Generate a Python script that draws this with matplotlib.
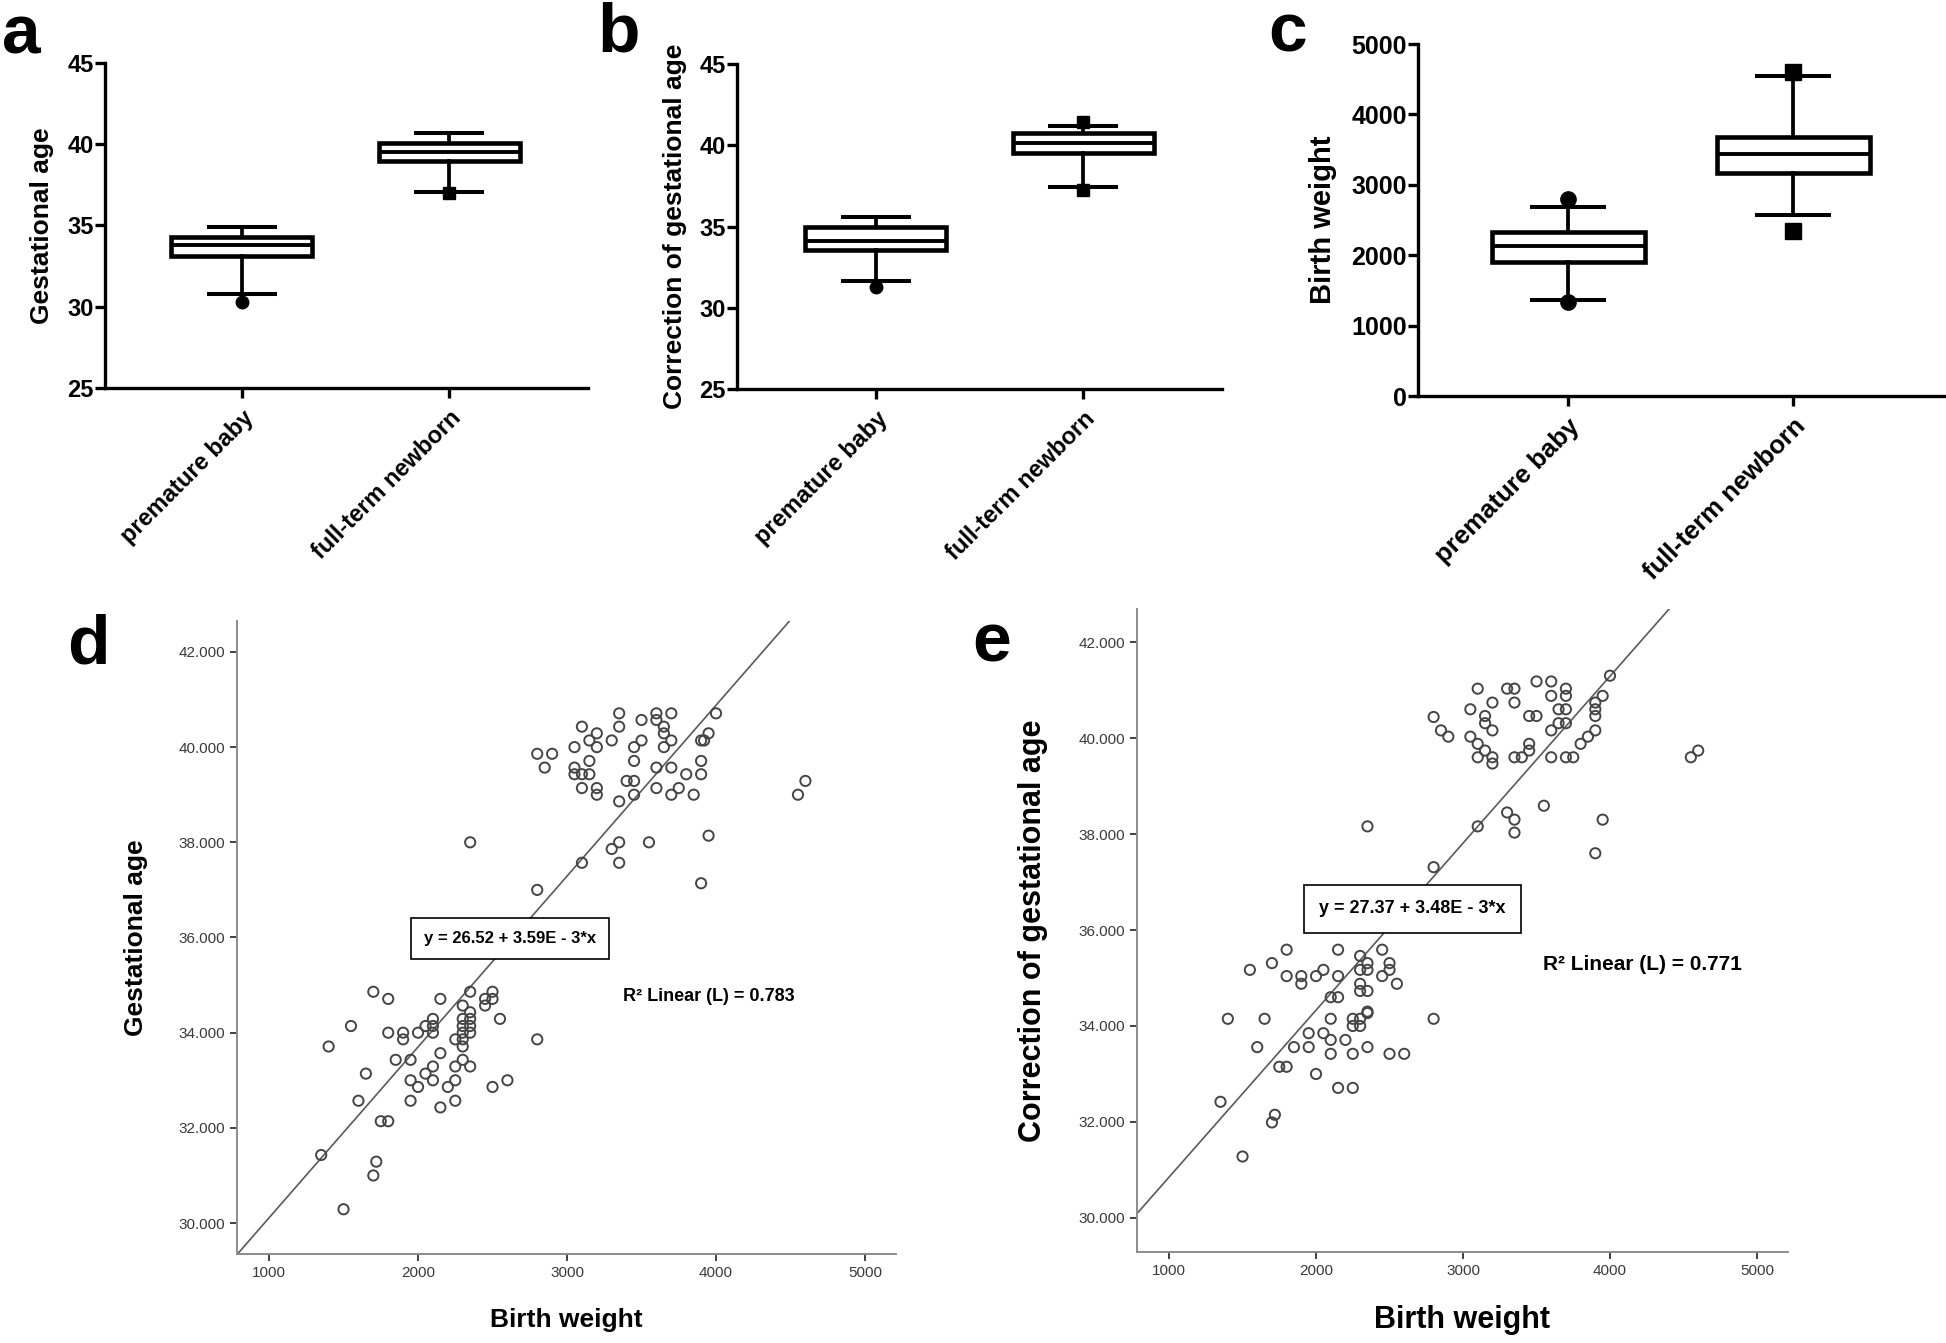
import numpy as np
import matplotlib.pyplot as plt

plt.rcParams['font.family'] = ['Liberation Sans', 'DejaVu Sans']

W, H = 1946, 1343

# ---- box plot summaries (panels a-c) ----
groups = ['premature baby', 'full-term newborn']

ga_q1 = [33.12, 38.95]
ga_med = [33.80, 39.55]
ga_q3 = [34.30, 40.10]
ga_lo = [30.76, 37.09]
ga_hi = [34.89, 40.70]
ga_out = [[30.31], [36.99]]

cga_q1 = [33.54, 39.53]
cga_med = [34.11, 40.15]
cga_q3 = [34.98, 40.76]
cga_lo = [31.67, 37.41]
cga_hi = [35.59, 41.17]
cga_out = [[31.26], [41.45, 37.25]]

bw_q1 = [1903, 3167]
bw_med = [2131, 3438]
bw_q3 = [2330, 3679]
bw_lo = [1364, 2571]
bw_hi = [2685, 4545]
bw_out = [[2798, 1335], [4602, 2344]]

# ---- scatter d: birth weight vs gestational age ----
d_weight = [3600, 3700, 3350, 4000, 3500, 3600, 3100, 3350, 3650, 3200, 3650, 3950,
            3150, 3300, 3500, 3700, 3900, 3920, 3050, 3200, 3450, 3650, 2800, 2900,
            3150, 3450, 3900, 2850, 3050, 3600, 3700, 3050, 3100, 3150, 3800, 3900,
            3400, 3450, 3100, 3200, 3600, 3750, 3200, 3450, 3700, 3850, 3350, 4550,
            4600, 2350, 3350, 3550, 3300, 3950, 3100, 3350, 3900, 2800,
            1700, 1800, 2150, 2350, 2500, 2450, 2500, 2300, 2450, 1550, 1400, 1650,
            1600, 1750, 1800, 1350, 1720, 1700, 1500, 1800, 1850, 1900, 1900, 1950,
            1950, 1950, 2000, 2000, 2050, 2050, 2100, 2100, 2100, 2100, 2100, 2150,
            2150, 2200, 2250, 2250, 2250, 2250, 2300, 2300, 2300, 2300, 2300, 2300,
            2350, 2350, 2350, 2350, 2350, 2550, 2500, 2600, 2800]
d_age = [40.71, 40.71, 40.71, 40.71, 40.57, 40.57, 40.43, 40.43, 40.43, 40.29, 40.29, 40.29,
         40.14, 40.14, 40.14, 40.14, 40.14, 40.14, 40.00, 40.00, 40.00, 40.00, 39.86, 39.86,
         39.71, 39.71, 39.71, 39.57, 39.57, 39.57, 39.57, 39.43, 39.43, 39.43, 39.43, 39.43,
         39.29, 39.29, 39.14, 39.14, 39.14, 39.14, 39.00, 39.00, 39.00, 39.00, 38.86, 39.00,
         39.29, 38.00, 38.00, 38.00, 37.86, 38.14, 37.57, 37.57, 37.14, 37.00,
         34.86, 34.71, 34.71, 34.86, 34.86, 34.71, 34.71, 34.57, 34.57, 34.14, 33.71, 33.14,
         32.57, 32.14, 32.14, 31.43, 31.29, 31.00, 30.29, 34.00, 33.43, 34.00, 33.86, 33.43,
         33.00, 32.57, 32.86, 34.00, 34.14, 33.14, 34.29, 34.14, 34.00, 33.29, 33.00, 33.57,
         32.43, 32.86, 33.86, 33.29, 33.00, 32.57, 34.29, 34.14, 34.00, 33.86, 33.71, 33.43,
         34.43, 34.29, 34.14, 34.00, 33.29, 34.29, 32.86, 33.00, 33.86]
d_intercept, d_slope = 26.52, 3.59e-3

# ---- scatter e: birth weight vs corrected gestational age ----
e_weight = [3500, 3600, 3100, 3300, 3350, 3700, 3600, 3700, 3950, 4000, 3200, 3350,
            3900, 3050, 3650, 3700, 3900, 3150, 3450, 3500, 3900, 2800, 3150, 3650,
            3700, 2850, 3200, 3600, 3900, 2900, 3050, 3850, 3100, 3450, 3800, 3150,
            3450, 3100, 3200, 3350, 3400, 3600, 3700, 3750, 3200, 4550, 4600, 3550,
            3300, 3350, 3950, 2350, 3100, 3350, 3900, 2800,
            1800, 2150, 2450, 2300, 1700, 2350, 2500, 1550, 2050, 2300, 2350, 2500,
            1800, 1900, 2000, 2150, 2450, 1900, 2300, 2550, 2300, 2350, 2100, 2150,
            2350, 1400, 1650, 1600, 1850, 1950, 1950, 2050, 2100, 2100, 2100, 2200,
            2250, 2300, 2250, 2300, 2250, 2350, 2350, 2500, 2600, 2800, 1750, 1800,
            2000, 2150, 2250, 1350, 1720, 1700, 1500]
e_age = [41.18, 41.18, 41.03, 41.03, 41.03, 41.03, 40.88, 40.88, 40.88, 41.30, 40.74, 40.74,
         40.74, 40.60, 40.60, 40.60, 40.60, 40.46, 40.46, 40.46, 40.46, 40.44, 40.31, 40.31,
         40.31, 40.16, 40.16, 40.16, 40.16, 40.03, 40.03, 40.03, 39.88, 39.88, 39.88, 39.74,
         39.74, 39.60, 39.60, 39.60, 39.60, 39.60, 39.60, 39.60, 39.47, 39.60, 39.74, 38.59,
         38.45, 38.30, 38.30, 38.16, 38.16, 38.03, 37.60, 37.31,
         35.59, 35.59, 35.59, 35.46, 35.31, 35.31, 35.31, 35.17, 35.17, 35.17, 35.17, 35.17,
         35.04, 35.04, 35.04, 35.04, 35.04, 34.88, 34.88, 34.88, 34.73, 34.73, 34.60, 34.60,
         34.30, 34.15, 34.15, 33.56, 33.56, 33.85, 33.56, 33.85, 34.15, 33.71, 33.42, 33.71,
         34.15, 34.15, 34.00, 34.00, 33.42, 34.27, 33.56, 33.42, 33.42, 34.15, 33.15, 33.15,
         33.00, 32.71, 32.71, 32.42, 32.15, 31.99, 31.28]
e_intercept, e_slope = 27.37, 3.48e-3

fig = plt.figure(figsize=(W / 100, H / 100), dpi=100)


def add_px_axes(left, top, right, bottom):
    return fig.add_axes([left / W, 1 - bottom / H, (right - left) / W, (bottom - top) / H])


def box_panel(ax, q1, med, q3, lo, hi, out, xlim, ylim, yticks, ylabel,
              tick_fs, cat_fs, lab_fs, ylab_x, msize):
    stats = []
    for i in range(len(groups)):
        stats.append(dict(q1=q1[i], med=med[i], q3=q3[i],
                          whislo=lo[i], whishi=hi[i], fliers=out[i]))
    parts = ax.bxp(stats, positions=[0, 1], widths=0.68, capwidths=0.32,
                   patch_artist=True, manage_ticks=False,
                   boxprops=dict(facecolor='white', edgecolor='black', linewidth=3.3),
                   medianprops=dict(color='black', linewidth=2.8),
                   whiskerprops=dict(color='black', linewidth=2.7),
                   capprops=dict(color='black', linewidth=2.9),
                   flierprops=dict(marker='o', markerfacecolor='black',
                                   markeredgecolor='black', markersize=msize))
    parts['fliers'][1].set_marker('s')
    for f in parts['fliers']:
        f.set_zorder(4)
    ax.set_xlim(*xlim)
    ax.set_ylim(*ylim)
    ax.set_yticks(yticks)
    ax.set_xticks([0, 1])
    ax.set_xticklabels(groups, rotation=45, ha='right', rotation_mode='anchor',
                       fontsize=cat_fs, fontweight='bold')
    ax.tick_params(axis='y', labelsize=tick_fs, length=7, width=2.4, pad=1)
    ax.tick_params(axis='x', length=7, width=2.4, pad=6)
    for lab in ax.get_yticklabels():
        lab.set_fontweight('bold')
    for s in ['top', 'right']:
        ax.spines[s].set_visible(False)
    for s in ['left', 'bottom']:
        ax.spines[s].set_linewidth(2.4)
    ax.set_ylabel(ylabel, fontsize=lab_fs, fontweight='bold', va='center')
    ax.yaxis.set_label_coords(ylab_x, 0.5)


def scatter_panel(ax, x, y, a, b, xlim, ylim, eq_xy, eq_fs, eq_pad, r2_xy, r2_text, r2_fs,
                  ylabel, lab_fs, ylab_x, xlab_y):
    ax.scatter(x, y, s=54, facecolors='none', edgecolors='#454545', linewidths=1.4, zorder=3)
    xs = np.array(xlim)
    ax.plot(xs, a + b * xs, color='#5a5a5a', lw=1.2, zorder=2)
    ax.set_xlim(*xlim)
    ax.set_ylim(*ylim)
    ax.set_xticks([1000, 2000, 3000, 4000, 5000])
    ax.set_yticks([30, 32, 34, 36, 38, 40, 42])
    ax.set_yticklabels(['%.3f' % v for v in [30, 32, 34, 36, 38, 40, 42]])
    ax.tick_params(labelsize=11, labelcolor='#3a3a3a', color='#333333', length=5, width=1.3)
    for s in ['top', 'right']:
        ax.spines[s].set_visible(False)
    for s in ['left', 'bottom']:
        ax.spines[s].set_color('#8c8c8c')
        ax.spines[s].set_linewidth(1.4)
    eq_text = 'y = %.2f + %.2fE - 3*x' % (a, b * 1000)
    ax.text(eq_xy[0], eq_xy[1], eq_text, ha='center', va='center', fontsize=eq_fs,
            fontweight='bold', zorder=5,
            bbox=dict(boxstyle='square,pad=%.2f' % eq_pad, facecolor='white',
                      edgecolor='black', linewidth=1.2))
    ax.text(r2_xy[0], r2_xy[1], r2_text, ha='left', va='center', fontsize=r2_fs,
            fontweight='bold')
    ax.set_xlabel('Birth weight', fontsize=lab_fs, fontweight='bold', va='center')
    ax.set_ylabel(ylabel, fontsize=lab_fs, fontweight='bold', va='center')
    ax.xaxis.set_label_coords(0.5, xlab_y)
    ax.yaxis.set_label_coords(ylab_x, 0.5)


# panel a
ax_a = add_px_axes(105, 63, 588, 388)
box_panel(ax_a, ga_q1, ga_med, ga_q3, ga_lo, ga_hi, ga_out, (-0.66, 1.67), (25, 45),
          [25, 30, 35, 40, 45], 'Gestational age', 17, 17, 19, -0.13, 9)

# panel b
ax_b = add_px_axes(737, 64, 1222, 389)
box_panel(ax_b, cga_q1, cga_med, cga_q3, cga_lo, cga_hi, cga_out, (-0.67, 1.67), (25, 45),
          [25, 30, 35, 40, 45], 'Correction of gestational age', 17, 17, 19, -0.128, 9)

# panel c
ax_c = add_px_axes(1418, 44, 1946, 396)
box_panel(ax_c, bw_q1, bw_med, bw_q3, bw_lo, bw_hi, bw_out, (-0.667, 1.68), (0, 5000),
          [0, 1000, 2000, 3000, 4000, 5000], 'Birth weight', 18, 18.5, 21, -0.18, 11)

# panel d
ax_d = add_px_axes(237, 621, 896, 1254)
scatter_panel(ax_d, d_weight, d_age, d_intercept, d_slope, (785, 5208), (29.35, 42.65),
              (2617, 35.98), 12, 0.8, (3376, 34.75), 'R² Linear (L) = 0.783', 13,
              'Gestational age', 19, -0.153, -0.104)

# panel e
ax_e = add_px_axes(1137, 609, 1788, 1252)
scatter_panel(ax_e, e_weight, e_age, e_intercept, e_slope, (782, 5211), (29.29, 42.69),
              (2656, 36.44), 13, 0.85, (3544, 35.29), 'R² Linear (L) = 0.771', 15,
              'Correction of gestational age', 22, -0.16, -0.106)

# panel letters
for letter, lx, ly in [('a', 2, 53), ('b', 597, 52), ('c', 1268, 52), ('d', 67, 664), ('e', 972, 662)]:
    fig.text(lx / W, 1 - ly / H, letter, fontsize=50, fontweight='bold', ha='left', va='baseline')

fig.savefig('out.png', dpi=100)
